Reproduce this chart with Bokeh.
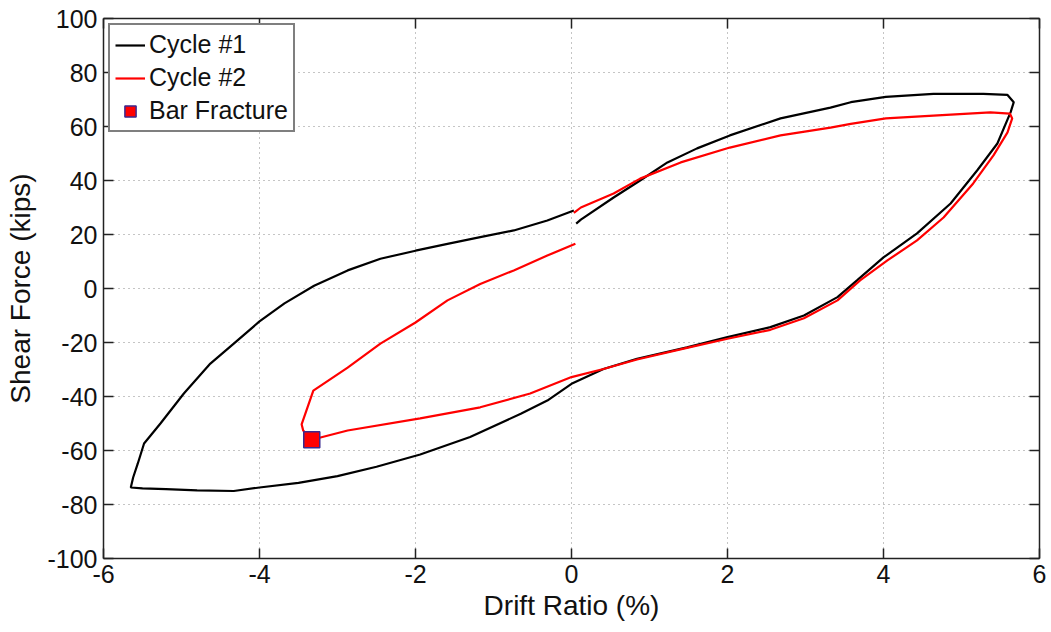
from bokeh.plotting import figure
from bokeh.models import Range1d, FixedTicker, LinearAxis, Legend, LegendItem
from bokeh.embed import file_html
from bokeh.resources import INLINE

# ---- data ----
cycle1_x = [0.06, 0.12, 0.54, 0.88, 1.23, 1.61, 2.03, 2.68, 3.32, 3.58, 4.03, 4.64, 5.28, 5.59, 5.67,
            5.63, 5.46, 5.2, 4.86, 4.43, 4.0, 3.66, 3.41, 2.98, 2.55, 2.0, 1.48, 0.84, 0.41, 0.0,
            -0.31, -0.65, -1.3, -1.94, -2.5, -3.0, -3.5, -4.0, -4.33, -4.8, -5.2, -5.5, -5.65,
            -5.62, -5.56, -5.48, -5.27, -4.97, -4.63, -4.33, -4.0, -3.68, -3.3, -2.87, -2.45,
            -2.0, -1.59, -1.17, -0.74, -0.31, 0.03]
cycle1_y = [24, 25.5, 33.7, 40, 46.7, 51.9, 56.7, 63, 67, 69, 71, 72.1, 72.1, 71.7, 69,
            65.3, 53.7, 43.7, 31.5, 20.4, 11.5, 3, -3.2, -10, -14.3, -18, -21.8, -26, -29.8, -35.3,
            -41.5, -46.4, -55, -61.5, -66, -69.5, -72, -73.7, -75, -74.8, -74.3, -74, -73.7,
            -70, -64.8, -57.4, -50, -38.9, -27.8, -20.4, -12.2, -5.5, 1.0, 6.7, 11,
            14, 16.5, 19, 21.5, 25.2, 28.9]

cycle2_x = [0.03, 0.12, 0.54, 0.88, 1.4, 2.03, 2.68, 3.32, 3.58, 4.03, 4.64, 5.37, 5.62, 5.65,
            5.59, 5.41, 5.15, 4.77, 4.43, 4.05, 3.7, 3.41, 2.98, 2.55, 2.0, 1.48, 0.84, 0.41, 0.0,
            -0.53, -1.17, -1.94, -2.87, -3.33, -3.44, -3.46, -3.31, -2.87, -2.45, -2.0,
            -1.59, -1.17, -0.74, -0.31, 0.05]
cycle2_y = [28, 30, 35.2, 40.7, 46.7, 52.2, 56.7, 59.6, 61, 63, 64, 65.2, 64.8, 63,
            57.8, 49.3, 38.9, 26.3, 17.8, 10.4, 3, -4.4, -11, -15.3, -18.6, -22, -26.3, -29.8, -32.8,
            -38.9, -44, -48.1, -52.6, -56, -52.6, -50.3, -37.8, -29.3, -20.4, -12.6,
            -4.4, 1.7, 6.7, 12.2, 16.6]

fracture_x = [-3.33]
fracture_y = [-56]

x_ticks = [-6, -4, -2, 0, 2, 4, 6]
y_ticks = [-100, -80, -60, -40, -20, 0, 20, 40, 60, 80, 100]

FONT = "Liberation Sans"

p = figure(width=1051, height=632, output_backend="svg", toolbar_location=None,
           x_range=Range1d(-6, 6), y_range=Range1d(-100, 100),
           min_border_left=103, min_border_right=12, min_border_top=18, min_border_bottom=74,
           background_fill_color="white", border_fill_color="white")
p.outline_line_color = None

def style_axis(ax, labels=True):
    ax.axis_line_color = "#222222"
    ax.axis_line_width = 1.5
    ax.major_tick_line_color = "#222222"
    ax.major_tick_line_width = 1.5
    ax.major_tick_in = 10
    ax.major_tick_out = 0
    ax.minor_tick_line_color = None
    ax.major_label_text_font = FONT
    ax.major_label_text_font_size = "25px"
    ax.major_label_text_color = "#111111" if labels else None
    ax.axis_label_text_font = FONT
    ax.axis_label_text_font_style = "normal"
    ax.axis_label_text_font_size = "28px"
    ax.axis_label_text_color = "#111111"

p.xaxis.ticker = FixedTicker(ticks=x_ticks)
p.yaxis.ticker = FixedTicker(ticks=y_ticks)
p.xaxis.major_label_overrides = {t: str(t) for t in x_ticks}
p.yaxis.major_label_overrides = {t: str(t) for t in y_ticks}
p.xaxis.axis_label = "Drift Ratio (%)"
p.yaxis.axis_label = "Shear Force (kips)"
for ax in p.xaxis + p.yaxis:
    style_axis(ax)
p.xaxis.major_label_standoff = 6
p.yaxis.major_label_standoff = 6
p.xaxis.axis_label_standoff = 4
p.yaxis.axis_label_standoff = 8

top = LinearAxis(ticker=FixedTicker(ticks=x_ticks))
right = LinearAxis(ticker=FixedTicker(ticks=y_ticks))
style_axis(top, labels=False)
style_axis(right, labels=False)
top.major_label_text_font_size = "0px"
right.major_label_text_font_size = "0px"
top.major_label_standoff = 0
right.major_label_standoff = 0
p.add_layout(top, "above")
p.add_layout(right, "right")

p.xgrid.ticker = FixedTicker(ticks=x_ticks)
p.ygrid.ticker = FixedTicker(ticks=y_ticks)
for g in (p.xgrid, p.ygrid):
    g.grid_line_color = "#8a8a8a"
    g.grid_line_dash = "1 4"
    g.grid_line_width = 1

r1 = p.line(cycle1_x, cycle1_y, line_color="black", line_width=2.2)
r2 = p.line(cycle2_x, cycle2_y, line_color="#ff0000", line_width=2.2)
r3 = p.scatter(fracture_x, fracture_y, marker="square", size=16,
               fill_color="#ff0000", line_color="#3a2a90", line_width=1.5)

legend = Legend(items=[LegendItem(label="Cycle #1", renderers=[r1]),
                       LegendItem(label="Cycle #2", renderers=[r2]),
                       LegendItem(label="Bar Fracture", renderers=[r3])],
                location="top_left")
legend.margin = 5
legend.padding = 5
legend.spacing = 4
legend.label_height = 28
legend.glyph_height = 28
legend.glyph_width = 30
legend.label_standoff = 4
legend.label_text_font = FONT
legend.label_text_font_size = "25px"
legend.label_text_color = "#111111"
legend.border_line_color = "black"
legend.border_line_width = 2
legend.background_fill_color = "white"
legend.background_fill_alpha = 1.0
p.add_layout(legend, "center")

open("out.html", "w").write(file_html(p, INLINE))
